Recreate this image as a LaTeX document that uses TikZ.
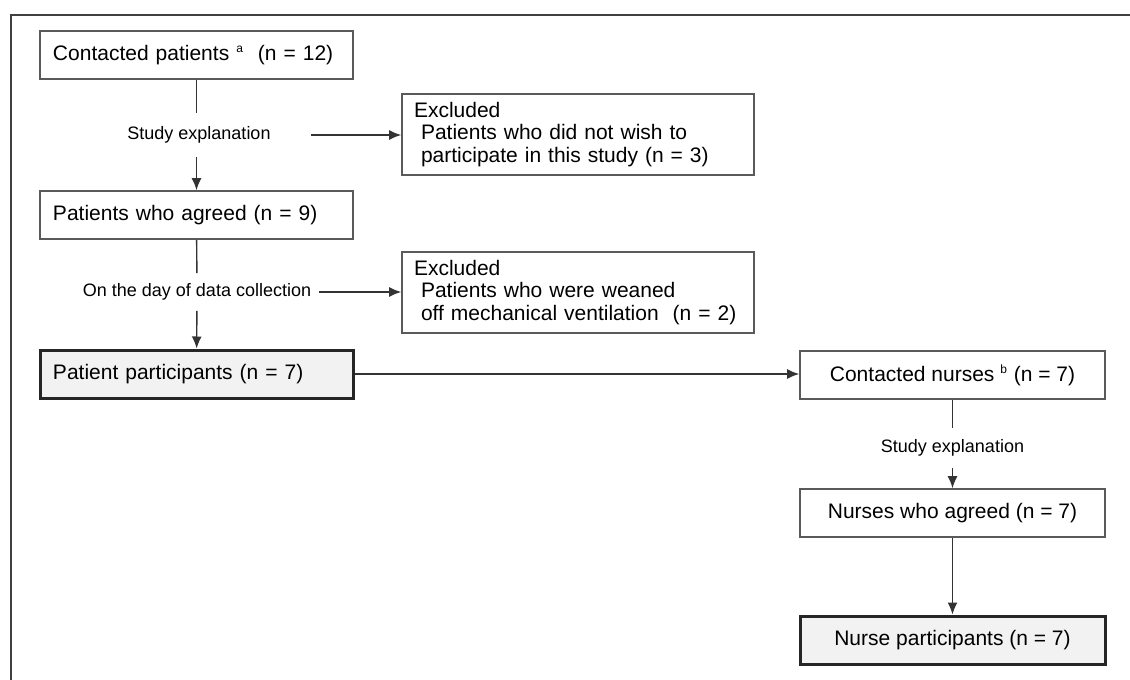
\documentclass[tikz,border=0pt]{standalone}
\usepackage{fontspec}
\setmainfont{Liberation Sans}
\usetikzlibrary{arrows.meta}
\definecolor{boxgray}{RGB}{90,90,90}
\definecolor{partfill}{RGB}{242,242,242}

\tikzset{
  flowbox/.style={draw=boxgray, line width=0.8pt, minimum height=24pt, font=\fontsize{10.5}{12}\selectfont},
  leftbox/.style={flowbox, text width=143.5pt, align=left, inner xsep=6.5pt},
  rightbox/.style={flowbox, minimum width=152.5pt},
  partbox/.style={line width=1.5pt, draw=black!85, fill=partfill},
  exclbox/.style={draw=boxgray, line width=0.8pt, text width=164pt, minimum height=40.5pt, align=left, inner xsep=6pt, font=\fontsize{10.5}{11.3}\selectfont},
  steplabel/.style={font=\fontsize{9}{10.8}\selectfont, inner ysep=6.5pt},
  flowline/.style={draw=black!80, line width=0.7pt},
  flowarrow/.style={flowline, -{Latex[length=6pt,width=5pt]}}
}

\begin{document}
\begin{tikzpicture}[x=0.5pt, y=-0.5pt]
  \useasboundingbox (0,0) rectangle (1130,680);
  % outer frame
  \draw[line width=1pt, draw=black!75] (11,680) -- (11,15) -- (1130,15);

  % patients
  \node[leftbox] (contpat) at (196.5,55) {Contacted patients \textsuperscript{\fontsize{6}{6}\selectfont a}\ \ (n = 12)};
  \node[steplabel, inner xsep=20pt] (patexpl) at (199,135) {Study explanation};
  \node[exclbox] (exclone) at (578,134.5) {Excluded\\\hspace*{3.5pt}Patients who did not wish to\\\hspace*{3.5pt}participate in this study (n = 3)};
  \node[leftbox] (patagree) at (196.5,215) {Patients who agreed (n = 9)};
  \node[steplabel, inner xsep=4pt, inner ysep=5pt] (dayexpl) at (197,292) {On the day of data collection};
  \node[exclbox] (excltwo) at (578,292.5) {Excluded\\\hspace*{3.5pt}Patients who were weaned\\\hspace*{3.5pt}off mechanical ventilation\ \ (n = 2)};
  \node[leftbox, partbox] (patpart) at (196.5,374) {Patient participants (n = 7)};

  % nurses
  \node[rightbox] (contnur) at (952.5,375) {Contacted nurses \textsuperscript{\fontsize{6}{6}\selectfont b} (n = 7)};
  \node[steplabel, inner ysep=5.5pt] (nurexpl) at (952.5,448) {Study explanation};
  \node[rightbox] (nuragree) at (952.5,513) {Nurses who agreed (n = 7)};
  \node[rightbox, partbox] (nurpart) at (952.5,640) {Nurse participants (n = 7)};

  % connectors
  \draw[flowline] (contpat) -- (contpat |- patexpl.north);
  \draw[flowarrow] (contpat |- patexpl.south) -- (patagree);
  \draw[flowarrow] (patexpl.east) -- (patexpl.east -| exclone.west);
  \draw[flowline] (patagree) -- (dayexpl);
  \draw[flowarrow] (dayexpl) -- (patpart);
  \draw[flowarrow] (dayexpl.east) -- (dayexpl.east -| excltwo.west);
  \draw[flowarrow] (patpart.east) -- (patpart.east -| contnur.west);
  \draw[flowline] (contnur) -- (nurexpl);
  \draw[flowarrow] (nurexpl) -- (nuragree);
  \draw[flowarrow] (nuragree) -- (nurpart);
\end{tikzpicture}
\end{document}
